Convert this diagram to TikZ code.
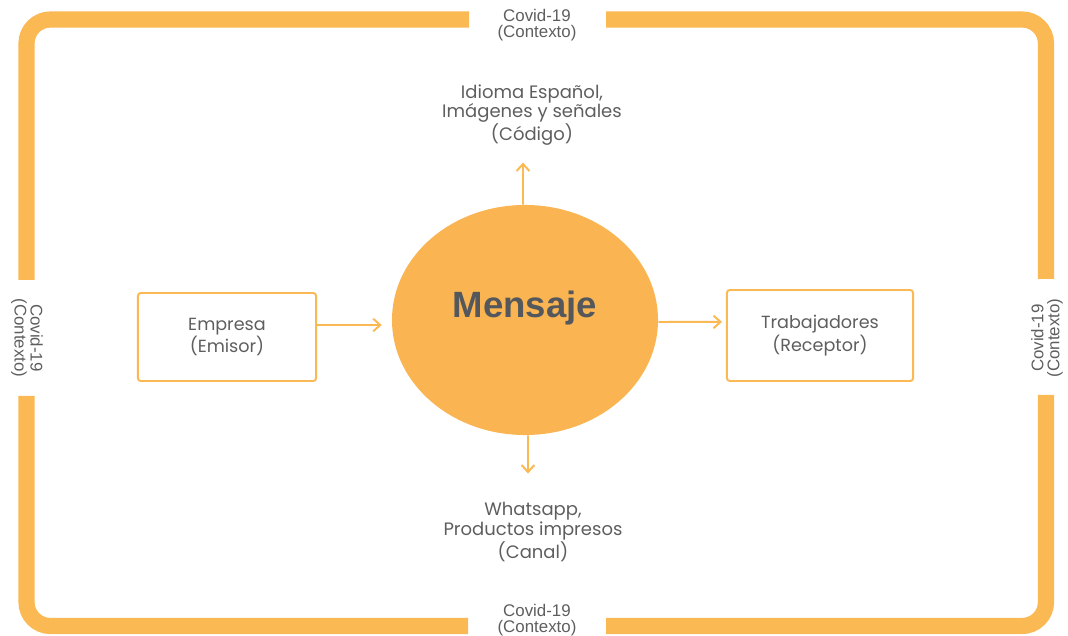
\documentclass[tikz,border=0pt]{standalone}
\usepackage{fontspec}
\setmainfont{Poppins}
\newfontfamily\ctxfont{Liberation Sans}
\newfontfamily\msgfont{Liberation Sans}
\usetikzlibrary{positioning,arrows.meta,shapes.geometric}
\definecolor{frameorange}{HTML}{FBB954}
\definecolor{msgorange}{HTML}{FAB552}
\definecolor{txtgray}{HTML}{5E5E5E}
\definecolor{msggray}{HTML}{54585D}

\begin{document}
\begin{tikzpicture}[x=0.025cm, y=-0.025cm,
  every node/.style={text=txtgray},
  frame/.style={draw=frameorange, line width=11.5pt, rounded corners=17pt},
  actor/.style={draw=frameorange, line width=1.4pt, rounded corners=2pt, align=center,
    font=\fontsize{12.5}{16}\selectfont},
  lbl/.style={align=center, font=\fontsize{12.8}{13.8}\selectfont},
  ctx/.style={align=center, inner sep=0pt, font=\ctxfont\fontsize{12}{11.5}\selectfont},
  arr/.style={-{Straight Barb[length=5pt,width=9pt]}, draw=frameorange, line width=1.4pt}]
\useasboundingbox (0,0) rectangle (1068,636);

% context frame, with gaps for the labels
\draw[frame] (606,19.5) -- (1046,19.5) -- (1046,279);
\draw[frame] (1046,395) -- (1046,626) -- (606,626);
\draw[frame] (468,626) -- (26.5,626) -- (26.5,396);
\draw[frame] (26.5,280) -- (26.5,19.5) -- (469,19.5);

\node[ctx] (ctxtop) at (537,25) {Covid-19\\(Contexto)};
\node[ctx] (ctxbot) at (537,620) {Covid-19\\(Contexto)};
\node[ctx, rotate=-90] (ctxleft) at (27,338) {Covid-19\\(Contexto)};
\node[ctx, rotate=90] (ctxright) at (1047,338) {Covid-19\\(Contexto)};

% message and actors
\node[ellipse, fill=msgorange, minimum width=6.65cm, minimum height=5.75cm] (mensaje) at (525,320) {};
\node[text=msggray, font=\msgfont\bfseries\fontsize{26}{30}\selectfont] (msgtxt) at (525,308) {Mensaje};
\node[actor, minimum width=4.45cm, minimum height=2.2cm] (emisor) at (227,337) {\raisebox{-2pt}{Empresa}\\(Emisor)};
\node[actor, minimum width=4.65cm, minimum height=2.275cm] (receptor) at (820,335.5) {\raisebox{-2pt}{Trabajadores}\\(Receptor)};

\node[lbl] (codigo) at (532,115) {Idioma Español,\\Imágenes y señales\\(Código)};
\node[lbl] (canal) at (533,532) {Whatsapp,\\Productos impresos\\(Canal)};

\draw[arr] ([yshift=.3cm]emisor.east) -- ([yshift=-.125cm,xshift=-.25cm]mensaje.west);
\draw[arr] ([yshift=-.05cm]mensaje.east) -- ([yshift=.34cm,xshift=-.1cm]receptor.west);
\draw[arr] ([xshift=-.05cm]mensaje.north) -- ([xshift=-.225cm,yshift=-.3cm]codigo.south);
\draw[arr] ([xshift=.075cm]mensaje.south) -- ([xshift=-.125cm,yshift=.6cm]canal.north);
\end{tikzpicture}
\end{document}
